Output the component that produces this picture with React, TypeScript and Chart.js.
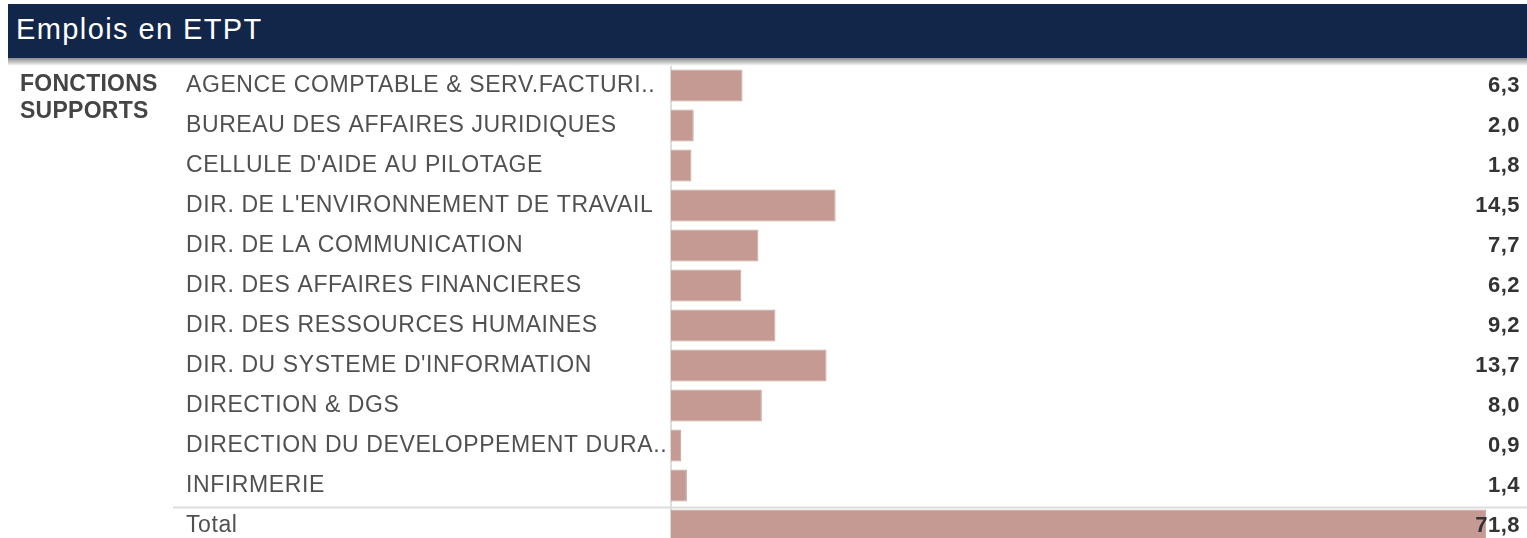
import React, { useEffect, useRef } from "react";
import { Chart, registerables } from "chart.js";

Chart.register(...registerables);

const title = "Emplois en ETPT";
const groupLabel = ["FONCTIONS", "SUPPORTS"];
const categories = [
  "AGENCE COMPTABLE & SERV.FACTURI..",
  "BUREAU DES AFFAIRES JURIDIQUES",
  "CELLULE D'AIDE AU PILOTAGE",
  "DIR. DE L'ENVIRONNEMENT DE TRAVAIL",
  "DIR. DE LA COMMUNICATION",
  "DIR. DES AFFAIRES FINANCIERES",
  "DIR. DES RESSOURCES HUMAINES",
  "DIR. DU SYSTEME D'INFORMATION",
  "DIRECTION & DGS",
  "DIRECTION DU DEVELOPPEMENT DURA..",
  "INFIRMERIE",
  "Total",
];
const values = [6.3, 2.0, 1.8, 14.5, 7.7, 6.2, 9.2, 13.7, 8.0, 0.9, 1.4, 71.8];

const FONT = "'Liberation Sans', Arial, sans-serif";

export default function App() {
  const ref = useRef<HTMLCanvasElement | null>(null);

  useEffect(() => {
    if (!ref.current) return;
    const extras = {
      id: "extras",
      beforeDraw(chart: any) {
        (chart.ctx as any).letterSpacing = "0.6px";
      },
      afterDatasetsDraw(chart: any) {
        const { ctx, chartArea } = chart;
        const meta = chart.getDatasetMeta(0);
        ctx.save();
        // value labels
        (ctx as any).letterSpacing = "0.5px";
        ctx.font = `bold 22px ${FONT}`;
        ctx.fillStyle = "#333333";
        ctx.textAlign = "right";
        ctx.textBaseline = "middle";
        meta.data.forEach((bar: any, i: number) => {
          ctx.fillText(values[i].toFixed(1).replace(".", ","), chartArea.right - 7, bar.y);
        });
        // group label
        const y0 = meta.data[0].y;
        (ctx as any).letterSpacing = "0.25px";
        ctx.font = `bold 23px ${FONT}`;
        ctx.fillStyle = "#444444";
        ctx.textAlign = "left";
        ctx.fillText(groupLabel[0], 20, y0 - 1);
        ctx.fillText(groupLabel[1], 20, y0 + 26);
        // separator above total
        const yScale = chart.scales.y;
        const last = categories.length - 1;
        const sepY = (yScale.getPixelForValue(last) + yScale.getPixelForValue(last - 1)) / 2 + 2;
        ctx.strokeStyle = "#dddddd";
        ctx.lineWidth = 2;
        ctx.beginPath();
        ctx.moveTo(173, sepY);
        ctx.lineTo(chart.width, sepY);
        ctx.stroke();
        ctx.restore();
      },
    };
    const chart = new Chart(ref.current, {
      type: "bar",
      data: {
        labels: categories,
        datasets: [
          {
            data: values,
            backgroundColor: "#c49a92",
            borderColor: "#c9a39b",
            borderWidth: 1,
            barPercentage: 0.8,
            categoryPercentage: 1,
          },
        ],
      },
      options: {
        indexAxis: "y",
        animation: false,
        responsive: false,
        maintainAspectRatio: false,
        layout: { padding: { left: 186, top: 65.5, right: 0, bottom: 14.5 } },
        plugins: { legend: { display: false }, tooltip: { enabled: false } },
        scales: {
          x: { display: false, min: 0, max: 75.4 },
          y: {
            grid: { display: false },
            border: { display: true, color: "#dddddd", width: 2 },
            afterFit: (scale: any) => {
              scale.width = 485;
            },
            ticks: {
              crossAlign: "far",
              color: "#505050",
              font: { family: FONT, size: 23 },
              padding: 0,
            },
          },
        },
      },
      plugins: [extras],
    });
    return () => chart.destroy();
  }, []);

  return (
    <div style={{ position: "fixed", left: 0, top: 0, width: 1527, height: 538, overflow: "hidden", background: "#fff" }}>
      <canvas ref={ref} width={1527} height={560} style={{ position: "absolute", left: 0, top: 0, width: 1527, height: 560 }} />
      <div
        style={{
          position: "absolute",
          left: 8,
          top: 4,
          width: 1519,
          height: 54,
          background: "#12264a",
          color: "#ffffff",
          fontFamily: FONT,
          fontSize: 29,
          letterSpacing: "1.4px",
          lineHeight: "50px",
          paddingLeft: 8,
          boxSizing: "border-box",
        }}
      >
        {title}
      </div>
      <div
        style={{
          position: "absolute",
          left: 8,
          top: 58,
          width: 1519,
          height: 8,
          background: "linear-gradient(#8a8a8a, #ffffff)",
        }}
      />
    </div>
  );
}
